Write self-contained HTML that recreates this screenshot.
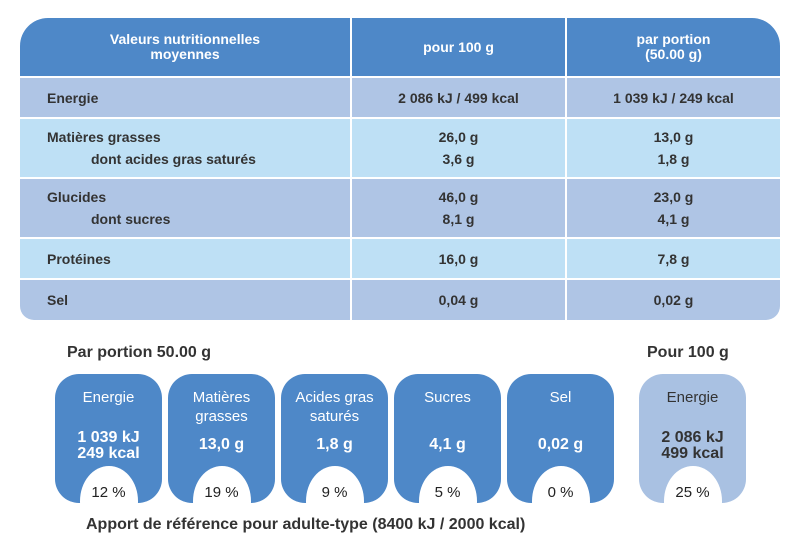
<!DOCTYPE html>
<html><head><meta charset="utf-8"><style>
body{margin:0;width:800px;height:554px;background:#fff;font-family:"Liberation Sans",sans-serif;position:relative;overflow:hidden}
.a{position:absolute;box-sizing:border-box}
.c{display:flex;align-items:center}
.hd{background:#4e88c8;color:#fff;font-weight:bold;font-size:14px;justify-content:center;text-align:center;line-height:15px}
.r1{background:#afc5e5}.r2{background:#bee0f5}
.t{color:#333;font-weight:bold;font-size:14px}
.v{text-align:center;line-height:22px}
.badge{position:absolute;top:374px;width:107px;height:129px;border-radius:24px;background:#4e88c8;overflow:hidden;color:#fff;text-align:center}
.badge.l{background:#a9c1e2;color:#333}
.badge .n{position:absolute;top:14px;left:0;right:0;font-size:15px;line-height:19px}
.badge .q{position:absolute;left:0;right:0;font-size:16px;font-weight:bold;line-height:16px}
.badge .ci{position:absolute;background:#fff;color:#222;font-size:15px;line-height:15px;border-radius:50%;box-sizing:border-box;top:92px;height:70px;width:58px;left:24.5px;padding-top:19px}
</style></head><body>
<div class="a c hd" style="left:20px;top:18px;width:330px;height:58px;border-top-left-radius:28px"><div>Valeurs nutritionnelles<br>moyennes</div></div>
<div class="a c hd" style="left:352px;top:18px;width:213px;height:58px">pour 100 g</div>
<div class="a c hd" style="left:567px;top:18px;width:213px;height:58px;border-top-right-radius:28px"><div>par portion<br>(50.00 g)</div></div>

<div class="a c r1 t" style="left:20px;top:78px;width:330px;height:39px;padding-left:27px">Energie</div>
<div class="a c r1 t" style="left:352px;top:78px;width:213px;height:39px;justify-content:center">2 086 kJ / 499 kcal</div>
<div class="a c r1 t" style="left:567px;top:78px;width:213px;height:39px;justify-content:center">1 039 kJ / 249 kcal</div>

<div class="a c r2 t" style="left:20px;top:119px;width:330px;height:58px;padding-left:27px;line-height:22px"><div>Matières grasses<br><span style="padding-left:44px">dont acides gras saturés</span></div></div>
<div class="a c r2 t" style="left:352px;top:119px;width:213px;height:58px;justify-content:center"><div class="v">26,0 g<br>3,6 g</div></div>
<div class="a c r2 t" style="left:567px;top:119px;width:213px;height:58px;justify-content:center"><div class="v">13,0 g<br>1,8 g</div></div>

<div class="a c r1 t" style="left:20px;top:179px;width:330px;height:58px;padding-left:27px;line-height:22px"><div>Glucides<br><span style="padding-left:44px">dont sucres</span></div></div>
<div class="a c r1 t" style="left:352px;top:179px;width:213px;height:58px;justify-content:center"><div class="v">46,0 g<br>8,1 g</div></div>
<div class="a c r1 t" style="left:567px;top:179px;width:213px;height:58px;justify-content:center"><div class="v">23,0 g<br>4,1 g</div></div>

<div class="a c r2 t" style="left:20px;top:239px;width:330px;height:39px;padding-left:27px">Protéines</div>
<div class="a c r2 t" style="left:352px;top:239px;width:213px;height:39px;justify-content:center">16,0 g</div>
<div class="a c r2 t" style="left:567px;top:239px;width:213px;height:39px;justify-content:center">7,8 g</div>

<div class="a c r1 t" style="left:20px;top:280px;width:330px;height:40px;padding-left:27px;border-bottom-left-radius:14px">Sel</div>
<div class="a c r1 t" style="left:352px;top:280px;width:213px;height:40px;justify-content:center">0,04 g</div>
<div class="a c r1 t" style="left:567px;top:280px;width:213px;height:40px;justify-content:center;border-bottom-right-radius:14px">0,02 g</div>

<div class="a t" style="left:67px;top:344px;font-size:16px">Par portion 50.00 g</div>
<div class="a t" style="left:647px;top:344px;font-size:16px">Pour 100 g</div>

<div class="badge" style="left:55px"><div class="n">Energie</div><div class="q" style="top:56px">1 039 kJ<br>249 kcal</div><div class="ci">12 %</div></div>
<div class="badge" style="left:168px"><div class="n">Matières<br>grasses</div><div class="q" style="top:63px">13,0 g</div><div class="ci">19 %</div></div>
<div class="badge" style="left:281px"><div class="n">Acides gras<br>saturés</div><div class="q" style="top:63px">1,8 g</div><div class="ci">9 %</div></div>
<div class="badge" style="left:394px"><div class="n">Sucres</div><div class="q" style="top:63px">4,1 g</div><div class="ci">5 %</div></div>
<div class="badge" style="left:507px"><div class="n">Sel</div><div class="q" style="top:63px">0,02 g</div><div class="ci">0 %</div></div>
<div class="badge l" style="left:639px"><div class="n">Energie</div><div class="q" style="top:56px">2 086 kJ<br>499 kcal</div><div class="ci">25 %</div></div>

<div class="a t" style="left:86px;top:516px;font-size:16px">Apport de référence pour adulte-type (8400 kJ / 2000 kcal)</div>
</body></html>
